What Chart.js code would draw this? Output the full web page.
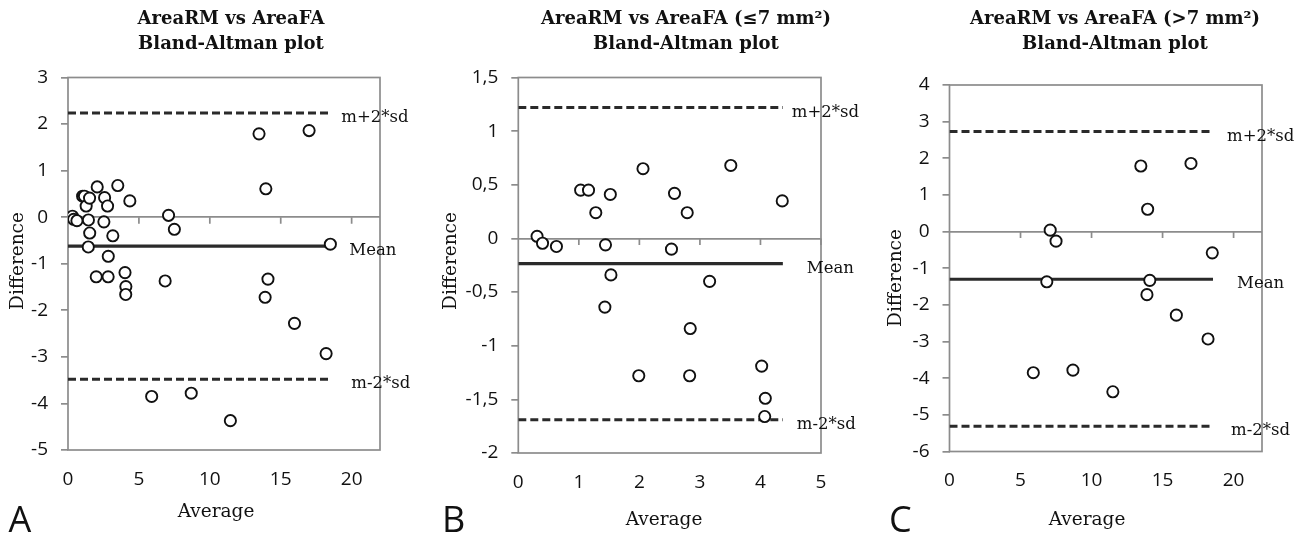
<!DOCTYPE html>
<html>
<head>
<meta charset="utf-8">
<script src="https://cdn.jsdelivr.net/npm/chart.js@4.4.0/dist/chart.umd.min.js"></script>
<style>
  body { margin: 0; background: #fff; width: 1295px; height: 533px; overflow: hidden; position: relative; }
  canvas { position: absolute; top: 0; }
</style>
</head>
<body>
<canvas id="chartA" width="430" height="533" style="left:0px"></canvas>
<canvas id="chartB" width="440" height="533" style="left:430px"></canvas>
<canvas id="chartC" width="425" height="533" style="left:870px"></canvas>
<script>
// ---- data ----
// A: all cases
const avgA  = [0.31, 0.40, 0.63, 1.03, 1.16, 1.28, 1.52, 1.44, 1.53, 1.43, 2.06, 1.99, 2.58, 2.53, 2.79, 2.84, 2.83, 3.16, 3.51, 4.02, 4.08, 4.07, 4.36,
               7.09, 7.50, 6.85, 5.90, 8.69, 11.45, 13.47, 17.00, 13.95, 14.10, 13.90, 15.97, 18.20, 18.50];
const diffA = [0.02, -0.045, -0.075, 0.45, 0.45, 0.24, 0.41, -0.06, -0.34, -0.64, 0.65, -1.28, 0.42, -0.10, 0.24, -0.84, -1.28, -0.40, 0.68, -1.19, -1.49, -1.66, 0.35,
               0.04, -0.26, -1.37, -3.85, -3.78, -4.37, 1.79, 1.86, 0.61, -1.33, -1.72, -2.28, -2.93, -0.58];
// B: <= 7 mm2
const avgB  = [0.31, 0.40, 0.63, 1.03, 1.16, 1.28, 1.52, 1.44, 1.53, 1.43, 2.06, 1.99, 2.58, 2.53, 2.79, 2.84, 2.83, 3.16, 3.51, 4.02, 4.08, 4.07, 4.36];
const diffB = [0.02, -0.045, -0.075, 0.45, 0.45, 0.24, 0.41, -0.06, -0.34, -0.64, 0.65, -1.28, 0.42, -0.10, 0.24, -0.84, -1.28, -0.40, 0.68, -1.19, -1.49, -1.66, 0.35];
// C: > 7 mm2
const avgC  = [7.09, 7.50, 6.85, 5.90, 8.69, 11.50, 13.47, 17.00, 13.95, 14.10, 13.90, 15.97, 18.20, 18.50];
const diffC = [0.04, -0.26, -1.37, -3.85, -3.78, -4.37, 1.79, 1.86, 0.61, -1.33, -1.72, -2.28, -2.93, -0.58];

// mean, mean+2sd, mean-2sd, and where the lines stop on x
const limitsA = [-0.62, 2.24, -3.48];   const lineEndA = 18.5;
const limitsB = [-0.235, 1.22, -1.69];  const lineEndB = 4.37;
const limitsC = [-1.30, 2.73, -5.31];   const lineEndC = 18.55;

// axes
const xRangeA = [0, 22]; const xStepA = 5; const yRangeA = [-5, 3];   const yStepA = 1;
const xRangeB = [0, 5];  const xStepB = 1; const yRangeB = [-2, 1.5]; const yStepB = 0.5;
const xRangeC = [0, 22]; const xStepC = 5; const yRangeC = [-6, 4];   const yStepC = 1;

const titleA = ['AreaRM vs AreaFA', 'Bland-Altman plot'];
const titleB = ['AreaRM vs AreaFA (≤7 mm²)', 'Bland-Altman plot'];
const titleC = ['AreaRM vs AreaFA (>7 mm²)', 'Bland-Altman plot'];
const lineLabels = ['Mean', 'm+2*sd', 'm-2*sd'];

const SERIF = '"DejaVu Serif", serif';
const SANS = '"Open Sans", sans-serif';
const INK = '#111';
const FRAME = '#8c8c8c';
const LINE = '#2a2a2a';

// text placement per panel (canvas-local pixels)
const panels = [
  { id: 'chartA', letter: 'A', title: titleA, avg: avgA, diff: diffA, limits: limitsA, end: lineEndA,
    xr: xRangeA, xs: xStepA, yr: yRangeA, ys: yStepA, comma: false,
    pad: { left: 0, top: 77.5, right: 50, bottom: 0 }, yW: 68, xH: 83,
    titleX: 231, avgX: 216, avgY: 517, diffX: 18, diffY: 261, letterX: 8.5, labelDx: [19, 11, 21] },
  { id: 'chartB', letter: 'B', title: titleB, avg: avgB, diff: diffB, limits: limitsB, end: lineEndB,
    xr: xRangeB, xs: xStepB, yr: yRangeB, ys: yStepB, comma: true,
    pad: { left: 0, top: 77.5, right: 49, bottom: 0 }, yW: 88.3, xH: 80,
    titleX: 256, avgX: 234, avgY: 525, diffX: 21, diffY: 261, letterX: 12, labelDx: [24, 9, 14] },
  { id: 'chartC', letter: 'C', title: titleC, avg: avgC, diff: diffC, limits: limitsC, end: lineEndC,
    xr: xRangeC, xs: xStepC, yr: yRangeC, ys: yStepC, comma: false,
    pad: { left: 0, top: 85, right: 33, bottom: 0 }, yW: 79.5, xH: 81.5,
    titleX: 245, avgX: 217, avgY: 525, diffX: 26, diffY: 278, letterX: 19, labelDx: [24, 14, 18] }
];

// frame, zero-line ticks and all the text around the plot
function decorPlugin(p) {
  return {
    id: 'decor',
    beforeDatasetsDraw(chart) {
      const { ctx, chartArea: a, scales: { x, y } } = chart;
      ctx.save();
      ctx.strokeStyle = FRAME;
      ctx.lineWidth = 1.7;
      ctx.strokeRect(a.left, a.top, a.right - a.left, a.bottom - a.top);
      const y0 = y.getPixelForValue(0);
      ctx.beginPath();
      x.ticks.forEach(t => {
        if (t.value > 0) {
          const px = x.getPixelForValue(t.value);
          ctx.moveTo(px, y0);
          ctx.lineTo(px, y0 + 6.5);
        }
      });
      ctx.stroke();
      ctx.restore();
    },
    afterDraw(chart) {
      const { ctx, scales: { x, y } } = chart;
      ctx.save();
      ctx.fillStyle = INK;

      ctx.font = 'bold 18px ' + SERIF;
      ctx.textAlign = 'center';
      ctx.textBaseline = 'middle';
      p.title.forEach((t, i) => ctx.fillText(t, p.titleX, 19 + i * 25));

      ctx.font = '16.5px ' + SERIF;
      ctx.textAlign = 'left';
      ctx.textBaseline = 'alphabetic';
      const xe = x.getPixelForValue(p.end);
      p.limits.forEach((v, i) => ctx.fillText(lineLabels[i], xe + p.labelDx[i], y.getPixelForValue(v) + 9));

      ctx.font = '18.5px ' + SERIF;
      ctx.textAlign = 'center';
      ctx.fillText('Average', p.avgX, p.avgY);
      ctx.save();
      ctx.translate(p.diffX, p.diffY);
      ctx.rotate(-Math.PI / 2);
      ctx.textBaseline = 'middle';
      ctx.fillText('Difference', 0, 0);
      ctx.restore();

      ctx.font = '36px ' + SANS;
      ctx.textAlign = 'left';
      ctx.textBaseline = 'alphabetic';
      ctx.fillText(p.letter, p.letterX, 532);
      ctx.restore();
    }
  };
}

function makePanel(p) {
  const pts = p.avg.map((v, i) => ({ x: v, y: p.diff[i] }));
  const hLine = v => [{ x: 0, y: v }, { x: p.end, y: v }];
  const fmt = v => p.comma ? String(v).replace('.', ',') : String(v);

  new Chart(document.getElementById(p.id), {
    type: 'scatter',
    data: {
      datasets: [
        { data: pts, pointStyle: 'circle', pointRadius: 5.6, pointBorderWidth: 1.9,
          pointBorderColor: INK, pointBackgroundColor: '#fff', showLine: false },
        { type: 'line', data: hLine(p.limits[0]), borderColor: LINE, borderWidth: 3.2,
          pointRadius: 0, fill: false },
        { type: 'line', data: hLine(p.limits[1]), borderColor: LINE, borderWidth: 3,
          borderDash: [8, 4], pointRadius: 0, fill: false },
        { type: 'line', data: hLine(p.limits[2]), borderColor: LINE, borderWidth: 3,
          borderDash: [8, 4], pointRadius: 0, fill: false }
      ]
    },
    options: {
      responsive: false,
      animation: false,
      events: [],
      layout: { padding: p.pad, autoPadding: false },
      plugins: { legend: { display: false }, tooltip: { enabled: false }, title: { display: false } },
      scales: {
        x: {
          type: 'linear', min: p.xr[0], max: p.xr[1],
          afterFit: s => { s.height = p.xH; },
          grid: { display: false, drawTicks: false },
          border: { display: false },
          ticks: { stepSize: p.xs, includeBounds: false, padding: 18, color: INK,
                   font: { family: SANS, size: 19 }, callback: fmt, maxRotation: 0 }
        },
        y: {
          type: 'linear', min: p.yr[0], max: p.yr[1],
          afterFit: s => { s.width = p.yW; },
          grid: {
            color: c => (c.tick && Math.abs(c.tick.value) < 1e-9) ? FRAME : 'rgba(0,0,0,0)',
            tickColor: FRAME, lineWidth: 1.7, tickLength: 7, drawTicks: true
          },
          border: { display: false },
          ticks: { stepSize: p.ys, padding: 13, color: INK,
                   font: { family: SANS, size: 19 }, callback: fmt }
        }
      }
    },
    plugins: [decorPlugin(p)]
  });
}

panels.forEach(makePanel);
</script>
</body>
</html>
